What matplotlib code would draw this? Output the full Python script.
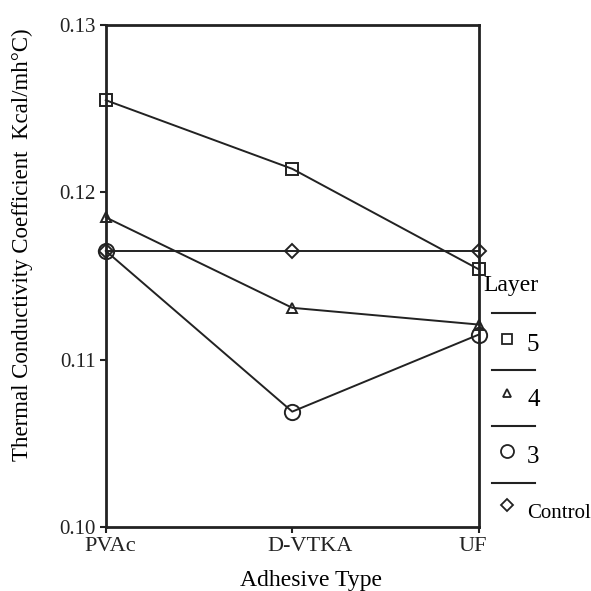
import matplotlib
matplotlib.use("Agg")
import matplotlib.pyplot as plt
from matplotlib.lines import Line2D
from matplotlib.transforms import ScaledTranslation

plt.rcParams['font.family'] = ['Liberation Serif', 'DejaVu Serif']

categories = ["PVAc", "D-VTKA", "UF"]
layer5 = [0.1255, 0.1214, 0.1154]
layer4 = [0.1185, 0.1131, 0.1121]
layer3 = [0.1165, 0.1069, 0.1115]
control = [0.1165, 0.1165, 0.1165]
yticks = [0.10, 0.11, 0.12, 0.13]
ytick_labels = ["0.10", "0.11", "0.12", "0.13"]

fig = plt.figure(figsize=(5.91, 5.91), dpi=100)
ax = fig.add_axes([0.179, 0.108, 0.631, 0.850])
x = list(range(len(categories)))

series = [(layer5, 's', '5'), (layer4, '^', '4'), (layer3, 'o', '3'), (control, 'D', 'Control')]
sizes = {'s': 8, '^': 7, 'o': 11, 'D': 7}
for vals, m, lab in series:
    ax.plot(x, vals, color='#222222', lw=1.4, marker=m, ms=sizes[m],
            mfc='none', mec='#222222', mew=1.4, clip_on=False, zorder=3)

ax.set_xlim(0, 2)
ax.set_ylim(0.10, 0.13)
ax.set_xticks(x)
ax.set_xticklabels(categories, fontsize=16)
ax.set_yticks(yticks)
ax.set_yticklabels(ytick_labels, fontsize=15)
ax.tick_params(direction='out', length=4, width=1.5, colors='#222222', pad=3)
for s in ax.spines.values():
    s.set_linewidth(2)
    s.set_color('#222222')

# small horizontal shifts of x tick labels as in the reference
shifts_px = [4, 18, -6]
for lbl, dx in zip(ax.get_xticklabels(), shifts_px):
    lbl.set_transform(lbl.get_transform() + ScaledTranslation(dx / 100, 0, fig.dpi_scale_trans))

ax.set_xlabel("Adhesive Type", fontsize=17, va='center')
ax.xaxis.set_label_coords((311 - 106) / 373, (527 - 580) / 502)
ax.set_ylabel("Thermal Conductivity Coefficient  Kcal/mh°C)", fontsize=16.5, va='center')
ax.yaxis.set_label_coords((23 - 106) / 373, (527 - 245) / 502)

# custom legend at right
fig.text(483/591, 1 - 285/591, "Layer", fontsize=17, ha='left', va='center')
line_ys = [313, 370, 426, 483]
for ly in line_ys:
    fig.add_artist(Line2D([492/591, 535/591], [1 - ly/591, 1 - ly/591],
                          color='#222222', lw=1.5))
entries = [('s', '5', 339, 345), ('^', '4', 393, 400), ('o', '3', 451, 457), ('D', 'Control', 505, 514)]
for m, lab, my, ty in entries:
    fig.add_artist(Line2D([507/591], [1 - my/591], marker=m, ms=sizes[m] * 0.85,
                          mfc='none', mec='#222222', mew=1.3, ls='none'))
    fig.text(527/591, 1 - ty/591, lab, fontsize=18 if lab != 'Control' else 15,
             ha='left', va='center')

fig.savefig("out.png", dpi=100, facecolor='white')
